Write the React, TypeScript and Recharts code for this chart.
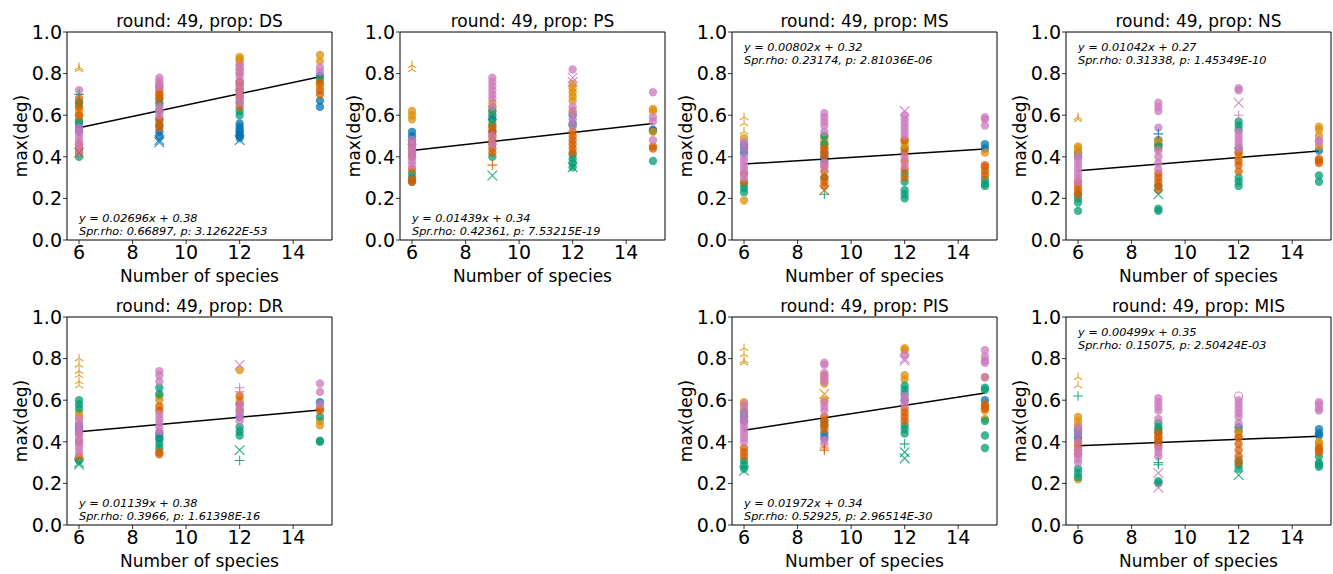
import React from 'react';
import {
  ScatterChart,
  Scatter,
  XAxis,
  YAxis,
  ReferenceArea,
  ReferenceLine,
} from 'recharts';

// number of species on the x axis, one column of points per value
const species = [6, 9, 12, 15];
// seaborn "colorblind" palette: blue, orange, green, vermillion, pink
const palette = ['#0173b2', '#de8f05', '#029e73', '#d55e00', '#cc78bc'];
const xTicks = [6, 8, 10, 12, 14];
const yTicks = [0, 0.2, 0.4, 0.6, 0.8, 1.0];

// max(deg) values per colour, one list per species column (6, 9, 12, 15)
const dsBlue = [[0.52, 0.54, 0.56], [0.5, 0.52, 0.55], [0.49, 0.5, 0.51, 0.52, 0.53, 0.545, 0.56], [0.64, 0.67, 0.79]];
const dsOrange = [[0.58, 0.6, 0.62, 0.64, 0.66], [0.62, 0.65, 0.68, 0.7], [0.72, 0.76, 0.8, 0.82, 0.84, 0.86, 0.87, 0.88], [0.89, 0.86, 0.75, 0.74]];
const dsGreen = [[0.4, 0.42, 0.57, 0.66], [0.58, 0.62, 0.66], [0.6, 0.62, 0.66], [0.775]];
const dsDark = [[0.44, 0.46, 0.6, 0.64, 0.68], [0.54, 0.56, 0.58, 0.68, 0.7, 0.72, 0.74], [0.64, 0.68, 0.7, 0.72, 0.74, 0.76], [0.72, 0.7, 0.76]];
const dsPink = [[0.42, 0.44, 0.46, 0.48, 0.5, 0.52, 0.54, 0.72], [0.6, 0.62, 0.64, 0.735, 0.75, 0.765, 0.78], [0.66, 0.69, 0.72, 0.75, 0.78, 0.8, 0.82, 0.84], [0.83, 0.81]];

const psBlue = [[0.46, 0.48, 0.5, 0.52], [0.52, 0.58, 0.6], [0.56, 0.6], [0.53, 0.525]];
const psOrange = [[0.58, 0.6, 0.62], [0.56, 0.62, 0.64, 0.66], [0.62, 0.67, 0.69, 0.71, 0.73, 0.75], [0.63, 0.62, 0.52]];
const psGreen = [[0.28, 0.3, 0.32], [0.4, 0.55, 0.58, 0.62], [0.35, 0.37, 0.39, 0.41, 0.55], [0.38]];
const psDark = [[0.28, 0.29, 0.34, 0.4, 0.42, 0.44, 0.46], [0.42, 0.44, 0.46, 0.48, 0.5, 0.52, 0.54], [0.42, 0.44, 0.46, 0.48, 0.5, 0.52], [0.45, 0.44]];
const psPink = [[0.36, 0.38, 0.4, 0.42, 0.44, 0.46, 0.48], [0.46, 0.5, 0.64, 0.68, 0.7, 0.72, 0.74, 0.76, 0.78], [0.55, 0.58, 0.61, 0.64, 0.82], [0.71, 0.59, 0.57, 0.48]];

const msBlue = [[0.42, 0.44, 0.46], [0.38, 0.4, 0.42], [0.44], [0.46, 0.44]];
const msOrange = [[0.19, 0.49], [0.44, 0.46, 0.48, 0.5], [0.44, 0.46, 0.48], [0.42]];
const msGreen = [[0.23, 0.25, 0.27], [0.3, 0.46, 0.5], [0.2, 0.22, 0.24, 0.28, 0.32], [0.29, 0.27, 0.26]];
const msDark = [[0.28, 0.32], [0.26, 0.28, 0.3, 0.33, 0.36, 0.4, 0.42, 0.44], [0.3, 0.34, 0.38, 0.42, 0.48], [0.36, 0.35, 0.33, 0.31]];
const msPink = [[0.3, 0.32, 0.34, 0.36, 0.38, 0.4, 0.44, 0.47], [0.35, 0.37, 0.52, 0.55, 0.57, 0.59, 0.61], [0.36, 0.4, 0.5, 0.52, 0.54, 0.56, 0.58, 0.6], [0.59, 0.58, 0.55]];

const nsBlue = [[0.4, 0.42], [0.46, 0.48], [0.44], [0.43]];
const nsOrange = [[0.42, 0.44, 0.45], [0.44, 0.46, 0.48], [0.4, 0.42], [0.545, 0.53, 0.5, 0.45]];
const nsGreen = [[0.14, 0.18, 0.2, 0.22], [0.14, 0.15, 0.26, 0.45], [0.26, 0.28, 0.3, 0.53, 0.55, 0.57], [0.31, 0.28]];
const nsDark = [[0.22, 0.24, 0.26, 0.28], [0.24, 0.26, 0.28, 0.3, 0.32], [0.33, 0.36, 0.38, 0.42], [0.39, 0.38, 0.37]];
const nsPink = [[0.28, 0.3, 0.32, 0.34, 0.36, 0.38, 0.4], [0.34, 0.37, 0.4, 0.43, 0.54, 0.62, 0.64, 0.66], [0.44, 0.46, 0.48, 0.5, 0.52, 0.72, 0.73], [0.48, 0.47]];

const drBlue = [[0.46, 0.48], [0.42, 0.44], [0.52], [0.59]];
const drOrange = [[0.52, 0.54], [0.6, 0.62], [0.58, 0.6, 0.745], [0.5, 0.48]];
const drGreen = [[0.31, 0.56, 0.58, 0.6], [0.37, 0.39, 0.41, 0.63, 0.66], [0.43, 0.45, 0.47], [0.52, 0.4, 0.405]];
const drDark = [[0.33, 0.4, 0.44], [0.34, 0.35, 0.55, 0.57], [0.55, 0.58, 0.62], [0.56, 0.55]];
const drPink = [[0.35, 0.37, 0.39, 0.41, 0.43, 0.45, 0.47, 0.49, 0.51], [0.45, 0.47, 0.49, 0.51, 0.53, 0.69, 0.72, 0.74], [0.5, 0.52, 0.54, 0.56, 0.58], [0.68, 0.64, 0.58]];

const pisBlue = [[0.5, 0.52], [0.42, 0.44], [0.6], [0.6]];
const pisOrange = [[0.55, 0.57, 0.59], [0.6, 0.68, 0.7, 0.72], [0.7, 0.72, 0.84, 0.85], [0.71, 0.55, 0.51]];
const pisGreen = [[0.27, 0.29, 0.31, 0.54], [0.48, 0.5], [0.44, 0.46, 0.48, 0.63, 0.65, 0.67], [0.66, 0.65, 0.5, 0.43, 0.37]];
const pisDark = [[0.33, 0.35, 0.37], [0.46, 0.48, 0.5, 0.52], [0.5, 0.52, 0.54, 0.56], [0.58, 0.57, 0.56]];
const pisPink = [[0.4, 0.42, 0.44, 0.46, 0.48, 0.5, 0.52, 0.55, 0.58], [0.39, 0.41, 0.55, 0.57, 0.59, 0.69, 0.71, 0.73, 0.77, 0.78], [0.58, 0.6, 0.62, 0.82], [0.84, 0.81, 0.79, 0.78, 0.71]];

const misBlue = [[0.42, 0.44, 0.46], [0.4], [0.45, 0.47], [0.46, 0.44, 0.43]];
const misOrange = [[0.22, 0.48, 0.5, 0.52], [0.42, 0.44, 0.46], [0.43, 0.45], [0.4, 0.39]];
const misGreen = [[0.23, 0.25, 0.27], [0.2, 0.21, 0.45, 0.47, 0.49], [0.27, 0.29, 0.31], [0.33, 0.3, 0.29, 0.28]];
const misDark = [[0.34, 0.36, 0.38, 0.4], [0.38, 0.4, 0.42, 0.44], [0.3, 0.33, 0.36, 0.39, 0.42], [0.37, 0.36, 0.35]];
const misPink = [[0.3, 0.32, 0.34, 0.36, 0.4, 0.44, 0.47], [0.33, 0.35, 0.37, 0.51, 0.55, 0.57, 0.59, 0.61], [0.49, 0.52, 0.54, 0.56, 0.58, 0.6], [0.59, 0.58, 0.56, 0.55]];

// thin-line markers sticking out of the columns: [species, value, colour index, marker]
const dsOut = [[6, 0.83, 1, 'tri'], [6, 0.82, 1, 'tri'], [6, 0.7, 2, '+'], [6, 0.42, 3, 'x'], [9, 0.48, 0, 'x'], [9, 0.47, 0, 'x'], [12, 0.48, 0, 'x']];
const psOut = [[6, 0.84, 1, 'tri'], [6, 0.82, 1, 'tri'], [9, 0.31, 2, 'x'], [9, 0.36, 3, '+'], [12, 0.78, 4, 'x'], [12, 0.76, 4, 'x'], [12, 0.35, 2, 'x']];
const msOut = [[6, 0.59, 1, 'tri'], [6, 0.56, 1, 'tri'], [6, 0.52, 1, 'tri'], [9, 0.22, 2, '+'], [9, 0.24, 3, 'x'], [12, 0.62, 4, 'x']];
const nsOut = [[6, 0.59, 1, 'tri'], [6, 0.58, 1, 'tri'], [9, 0.51, 0, '+'], [9, 0.22, 2, 'x'], [12, 0.66, 4, 'x'], [12, 0.6, 4, '+']];
const drOut = [[6, 0.8, 1, 'tri'], [6, 0.77, 1, 'tri'], [6, 0.74, 1, 'tri'], [6, 0.72, 1, 'tri'], [6, 0.69, 1, 'tri'], [6, 0.67, 1, 'tri'], [6, 0.29, 2, 'x'], [6, 0.3, 2, 'x'], [12, 0.77, 4, 'x'], [12, 0.66, 4, '+'], [12, 0.64, 4, '+'], [12, 0.36, 2, 'x'], [12, 0.31, 2, '+']];
const pisOut = [[6, 0.85, 1, 'tri'], [6, 0.82, 1, 'tri'], [6, 0.79, 1, 'tri'], [6, 0.78, 1, 'tri'], [6, 0.26, 2, 'x'], [9, 0.63, 1, 'x'], [9, 0.36, 3, '+'], [9, 0.37, 3, '+'], [12, 0.8, 4, 'x'], [12, 0.79, 4, 'x'], [12, 0.39, 2, '+'], [12, 0.35, 2, 'x'], [12, 0.32, 2, 'x']];
const misOut = [[6, 0.71, 1, 'tri'], [6, 0.67, 1, 'tri'], [6, 0.62, 2, '+'], [9, 0.3, 2, '+'], [9, 0.29, 2, '+'], [9, 0.25, 4, 'x'], [9, 0.18, 4, 'x'], [12, 0.24, 2, 'x'], [12, 0.62, 4, 'o']];

// regression line read at x = 6 and x = 15
const dsFit = [0.54, 0.785];
const psFit = [0.43, 0.56];
const msFit = [0.365, 0.437];
const nsFit = [0.333, 0.428];
const drFit = [0.448, 0.553];
const pisFit = [0.455, 0.635];
const misFit = [0.381, 0.427];

const PLOT_W = 265;
const PLOT_H = 208;
const FONT = '"DejaVu Sans", sans-serif';

type Panel = {
  prop: string;
  left: number;
  top: number;
  groups: number[][][];
  out: (number | string)[][];
  fit: number[];
  eq: string;
  rho: string;
  noteTop: boolean;
};

const panels: Panel[] = [
  { prop: 'DS', left: 67, top: 32, groups: [dsBlue, dsOrange, dsGreen, dsDark, dsPink], out: dsOut, fit: dsFit, eq: 'y = 0.02696x + 0.38', rho: 'Spr.rho: 0.66897, p: 3.12622E-53', noteTop: false },
  { prop: 'PS', left: 400, top: 32, groups: [psBlue, psOrange, psGreen, psDark, psPink], out: psOut, fit: psFit, eq: 'y = 0.01439x + 0.34', rho: 'Spr.rho: 0.42361, p: 7.53215E-19', noteTop: false },
  { prop: 'MS', left: 732, top: 32, groups: [msBlue, msOrange, msGreen, msDark, msPink], out: msOut, fit: msFit, eq: 'y = 0.00802x + 0.32', rho: 'Spr.rho: 0.23174, p: 2.81036E-06', noteTop: true },
  { prop: 'NS', left: 1066, top: 32, groups: [nsBlue, nsOrange, nsGreen, nsDark, nsPink], out: nsOut, fit: nsFit, eq: 'y = 0.01042x + 0.27', rho: 'Spr.rho: 0.31338, p: 1.45349E-10', noteTop: true },
  { prop: 'DR', left: 67, top: 317, groups: [drBlue, drOrange, drGreen, drDark, drPink], out: drOut, fit: drFit, eq: 'y = 0.01139x + 0.38', rho: 'Spr.rho: 0.3966, p: 1.61398E-16', noteTop: false },
  { prop: 'PIS', left: 732, top: 317, groups: [pisBlue, pisOrange, pisGreen, pisDark, pisPink], out: pisOut, fit: pisFit, eq: 'y = 0.01972x + 0.34', rho: 'Spr.rho: 0.52925, p: 2.96514E-30', noteTop: false },
  { prop: 'MIS', left: 1066, top: 317, groups: [misBlue, misOrange, misGreen, misDark, misPink], out: misOut, fit: misFit, eq: 'y = 0.00499x + 0.35', rho: 'Spr.rho: 0.15075, p: 2.50424E-03', noteTop: true },
];

const dotShape = (color: string) => (p: any) => (
  <circle cx={p.cx} cy={p.cy} r={4.2} fill={color} fillOpacity={0.75} stroke="none" />
);

const lineShape = (p: any) => {
  const { cx, cy } = p;
  const c = p.payload.c;
  const s = 4.8;
  const common = { stroke: c, strokeWidth: 1.1, strokeOpacity: 0.85, fill: 'none' };
  if (p.payload.m === 'x') {
    return <path d={`M${cx - s},${cy - s}L${cx + s},${cy + s}M${cx - s},${cy + s}L${cx + s},${cy - s}`} {...common} />;
  }
  if (p.payload.m === '+') {
    return <path d={`M${cx - s},${cy}L${cx + s},${cy}M${cx},${cy - s}L${cx},${cy + s}`} {...common} />;
  }
  if (p.payload.m === 'o') {
    return <circle cx={cx} cy={cy} r={4} {...common} />;
  }
  return <path d={`M${cx},${cy}L${cx},${cy - s}M${cx},${cy}L${cx - s * 0.87},${cy + s * 0.5}M${cx},${cy}L${cx + s * 0.87},${cy + s * 0.5}`} {...common} />;
};

const SubPlot: React.FC<{ panel: Panel }> = ({ panel }) => {
  const { left, top } = panel;
  const noteY = panel.noteTop ? top + 9 : top + PLOT_H - 28;
  return (
    <>
      <div style={{ position: 'absolute', left: left - 60, top: top - 32 }}>
        <ScatterChart width={330} height={290} margin={{ top: 32, right: 5, bottom: 0, left: 0 }}>
          <XAxis
            dataKey="x"
            type="number"
            domain={[5.55, 15.45]}
            ticks={xTicks}
            height={50}
            axisLine={false}
            tickSize={4}
            tickMargin={2}
            tickLine={{ stroke: '#000', strokeWidth: 0.8 }}
            tick={{ fontSize: 19, fill: '#000', fontFamily: FONT }}
          />
          <YAxis
            dataKey="y"
            type="number"
            domain={[0, 1]}
            ticks={yTicks}
            width={60}
            axisLine={false}
            tickSize={4}
            tickMargin={1}
            tickFormatter={(v: number) => v.toFixed(1)}
            tickLine={{ stroke: '#000', strokeWidth: 0.8 }}
            tick={{ fontSize: 19, fill: '#000', fontFamily: FONT }}
          />
          {panel.groups.map((cols, ci) => (
            <Scatter
              key={ci}
              data={cols.flatMap((ys, i) => ys.map((y) => ({ x: species[i], y })))}
              shape={dotShape(palette[ci])}
              isAnimationActive={false}
            />
          ))}
          <Scatter
            data={panel.out.map((o) => ({ x: o[0], y: o[1], c: palette[o[2] as number], m: o[3] }))}
            shape={lineShape}
            isAnimationActive={false}
          />
          <ReferenceLine
            segment={[{ x: species[0], y: panel.fit[0] }, { x: species[3], y: panel.fit[1] }]}
            stroke="#000"
            strokeWidth={1.5}
          />
          <ReferenceArea x1={5.55} x2={15.45} y1={0} y2={1} fill="none" fillOpacity={0} stroke="#000" strokeWidth={1} />
        </ScatterChart>
      </div>
      <div style={{ position: 'absolute', left, top: top - 22, width: PLOT_W, textAlign: 'center', fontSize: 17, lineHeight: '22px' }}>
        round: 49, prop: {panel.prop}
      </div>
      <div style={{ position: 'absolute', left, top: top + PLOT_H + 27, width: PLOT_W, textAlign: 'center', fontSize: 17, lineHeight: '18px' }}>
        Number of species
      </div>
      <div
        style={{
          position: 'absolute',
          left: left - 46 - 104,
          top: top + 104 - 10,
          width: 208,
          height: 20,
          lineHeight: '20px',
          textAlign: 'center',
          fontSize: 17,
          transform: 'rotate(-90deg)',
        }}
      >
        max(deg)
      </div>
      <div style={{ position: 'absolute', left: left + 12, top: noteY, fontSize: 11.3, lineHeight: '13px', fontStyle: 'italic', whiteSpace: 'nowrap' }}>
        {panel.eq}
        <br />
        {panel.rho}
      </div>
    </>
  );
};

export default function App() {
  return (
    <div style={{ position: 'absolute', left: 0, top: 0, width: 1333, height: 574, background: '#fff', fontFamily: FONT, color: '#000' }}>
      {panels.map((p) => (
        <SubPlot key={p.prop} panel={p} />
      ))}
    </div>
  );
}
